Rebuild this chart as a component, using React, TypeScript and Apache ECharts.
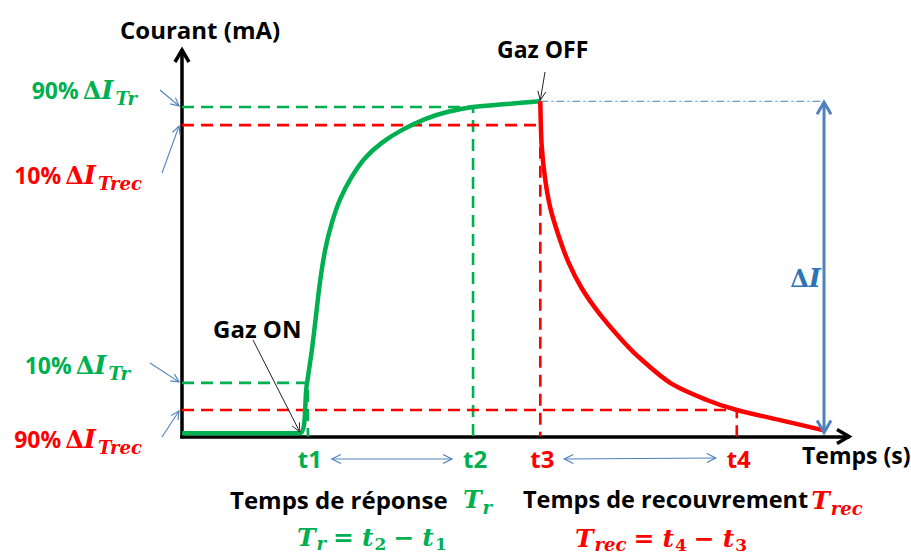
import React, { useEffect, useRef } from 'react';
import * as echarts from 'echarts';

// ---- data (arbitrary units: time 0..100, current 0..115) ----
const greenTime = [0, 17.7, 18.7, 19.5, 20.1, 20.7, 21.5, 22.5, 23.7, 25.5, 27.5, 30.0, 33.0, 36.5, 39.8, 43.7, 48.8, 53.8];
const greenCurrent = [1.0, 1.0, 14.9, 25.8, 35.7, 45.8, 55.7, 63.7, 70.6, 77.5, 83.1, 87.6, 91.4, 94.7, 96.8, 98.3, 99.2, 100];
const redTime = [53.8, 54.0, 54.5, 55.3, 56.5, 58.0, 60.0, 62.5, 65.5, 68.3, 73.3, 78.8, 83.3, 89.8, 96.2];
const redCurrent = [100, 87.0, 77.2, 68.2, 60.2, 52.1, 44.3, 37.1, 30.0, 24.2, 16.0, 10.9, 7.9, 4.9, 1.9];
const markTimes = [18.9, 43.7, 53.8, 83.3];
const markLabels = ['t1', 't2', 't3', 't4'];
const levelGreen90 = 98.3;
const levelRed10 = 92.9;
const levelGreen10 = 16.0;
const levelRed90 = 7.9;
const peakCurrent = 100;
const deltaTime = 96.4;
const timeMax = 100;
const currentMax = 115;

const GREEN = '#00B050';
const RED = '#FF0000';
const BLUE = '#4F81BD';
const SANS = "'Open Sans', sans-serif";
const SERIF = "'DejaVu Serif', serif";

let ctx2d: CanvasRenderingContext2D | null = null;
function measure(text: string, font: string) {
  if (!ctx2d) ctx2d = document.createElement('canvas').getContext('2d');
  ctx2d!.font = font;
  return ctx2d!.measureText(text).width;
}

type Opt = { align?: string; fam?: string; bold?: boolean; italic?: boolean };
function fontOf(size: number, o: Opt) {
  const fam = o.fam || SANS;
  return `${o.italic ? 'italic ' : ''}${o.bold === false ? '' : 'bold '}${size}px ${fam}`;
}
function txt(text: string, x: number, base: number, size: number, color: string, o: Opt = {}) {
  const fam = o.fam || SANS;
  const font = fontOf(size, o);
  const k = fam === SANS ? 0.36 : 0.34;
  return {
    type: 'text', silent: true, z: 50,
    style: {
      text, x, y: base - size * k, font, fill: color,
      align: o.align || 'left', textAlign: o.align || 'left',
      verticalAlign: 'middle', textVerticalAlign: 'middle',
    },
  };
}
type Part = { t: string; size: number; fam?: string; italic?: boolean; dy?: number; gap?: number };
// lays out runs left to right; if right is true, x is the right end
function seq(x: number, base: number, color: string, parts: Part[], right = false) {
  const widths = parts.map((p) => measure(p.t, fontOf(p.size, { fam: p.fam, italic: p.italic })) + (p.gap || 0));
  const total = widths.reduce((a, b) => a + b, 0);
  let cx = right ? x - total : x;
  const out: any[] = [];
  parts.forEach((p, i) => {
    out.push(txt(p.t, cx, base + (p.dy || 0), p.size, color, { fam: p.fam, italic: p.italic }));
    cx += widths[i];
  });
  return out;
}
function head(tip: number[], from: number[], len: number, half: number, color: string, w: number) {
  const dx = tip[0] - from[0], dy = tip[1] - from[1];
  const L = Math.hypot(dx, dy) || 1;
  const ux = dx / L, uy = dy / L;
  const bx = tip[0] - ux * len, by = tip[1] - uy * len;
  const px = -uy, py = ux;
  return {
    type: 'polyline', silent: true, z: 40,
    shape: { points: [[bx + px * half, by + py * half], [tip[0], tip[1]], [bx - px * half, by - py * half]] },
    style: { stroke: color, lineWidth: w, fill: 'none', lineJoin: 'miter' },
  };
}
function arrow(a: number[], b: number[], color: string, w: number, len: number, half: number, both = false) {
  const els: any[] = [
    { type: 'line', silent: true, z: 40, shape: { x1: a[0], y1: a[1], x2: b[0], y2: b[1] }, style: { stroke: color, lineWidth: w } },
    head(b, a, len, half, color, w),
  ];
  if (both) els.push(head(a, b, len, half, color, w));
  return els;
}
function mathLabel(pct: string, sub: string, color: string, endX: number, base: number) {
  return seq(endX, base, color, [
    { t: pct, size: 23, fam: SANS, gap: 4 },
    { t: 'Δ', size: 24, fam: SERIF, dy: 1 },
    { t: 'I', size: 26, fam: SERIF, italic: true, dy: 1, gap: 2 },
    { t: sub, size: 18, fam: SERIF, italic: true, dy: 7 },
  ], true);
}

function pairs(xs: number[], ys: number[]) {
  return xs.map((x, i) => [x, ys[i]]);
}
function guide(level: number, t: number) {
  return [[0, level], [t, level], [t, 0]];
}

export default function App() {
  const ref = useRef<HTMLDivElement>(null);
  useEffect(() => {
    document.body.style.margin = '0';
    const chart = echarts.init(ref.current!, null, { renderer: 'svg' });
    const dashed = (color: string) => ({ color, width: 2.6, type: [12, 7] as any });
    chart.setOption({
      animation: false,
      grid: { left: 182, top: 51, width: 666, height: 385.5, outerBoundsMode: 'none' } as any,
      xAxis: {
        type: 'value', min: 0, max: timeMax,
        axisLine: { show: true, onZero: false, lineStyle: { color: '#000', width: 3.5, cap: 'square' } as any },
        axisTick: { show: false }, axisLabel: { show: false }, splitLine: { show: false },
      },
      yAxis: {
        type: 'value', min: 0, max: currentMax,
        axisLine: { show: true, onZero: false, lineStyle: { color: '#000', width: 3.5, cap: 'square' } as any },
        axisTick: { show: false }, axisLabel: { show: false }, splitLine: { show: false },
      },
      series: [
        { type: 'line', data: guide(levelGreen90, markTimes[1]), showSymbol: false, lineStyle: dashed(GREEN), z: 3 },
        { type: 'line', data: guide(levelRed10, markTimes[2]), showSymbol: false, lineStyle: dashed(RED), z: 3 },
        { type: 'line', data: guide(levelGreen10, markTimes[0]), showSymbol: false, lineStyle: dashed(GREEN), z: 3 },
        { type: 'line', data: guide(levelRed90, markTimes[3]), showSymbol: false, lineStyle: dashed(RED), z: 3 },
        {
          type: 'line', data: [[markTimes[2], peakCurrent], [deltaTime, peakCurrent]], showSymbol: false,
          lineStyle: { color: BLUE, width: 1, type: [8, 3, 2, 3] as any }, z: 3,
        },
        {
          type: 'line', data: pairs(greenTime, greenCurrent), showSymbol: false, smooth: 0.3,
          lineStyle: { color: GREEN, width: 4.5 }, z: 5,
        },
        {
          type: 'line', data: pairs(redTime, redCurrent), showSymbol: false, smooth: 0.3,
          lineStyle: { color: RED, width: 4.5 }, z: 5,
        },
      ],
    });

    const P = (x: number, y: number) => chart.convertToPixel({ gridIndex: 0 }, [x, y]) as number[];
    const g: any[] = [];
    // axis arrow heads
    const yTop = P(0, currentMax);
    g.push(head([yTop[0], yTop[1] - 1], [yTop[0], yTop[1] + 10], 12, 7, '#000', 3.5));
    const xEnd = P(timeMax, 0);
    g.push(head([xEnd[0] + 1, xEnd[1]], [xEnd[0] - 10, xEnd[1]], 12, 7, '#000', 3.5));

    // axis titles
    g.push(txt('Courant (mA)', 120, 38, 24, '#000'));
    g.push(txt('Temps (s)', 802, 463, 23, '#000'));

    // t labels + double arrows
    const tColors = [GREEN, GREEN, RED, RED];
    markTimes.forEach((t, i) => {
      g.push(txt(markLabels[i], P(t, 0)[0] + 2, 467, 24, tColors[i], { align: 'center' }));
    });
    g.push(...arrow([P(markTimes[0], 0)[0] + 24, 459], [P(markTimes[1], 0)[0] - 21, 459], BLUE, 1.2, 9, 4.5, true));
    g.push(...arrow([P(markTimes[2], 0)[0] + 24, 459], [P(markTimes[3], 0)[0] - 21, 458], BLUE, 1.2, 9, 4.5, true));

    // bottom captions
    g.push(txt('Temps de réponse', 230, 508, 24, '#000'));
    g.push(...seq(463, 508, GREEN, [
      { t: 'T', size: 25, fam: SERIF, italic: true, gap: 1 },
      { t: 'r', size: 18, fam: SERIF, italic: true, dy: 6 },
    ]));
    const capFont = 23.5;
    g.push(txt('Temps de recouvrement', 523, 507, capFont, '#000'));
    const capEnd = 523 + measure('Temps de recouvrement', fontOf(capFont, {}));
    g.push(...seq(Math.max(811, capEnd + 3), 509, RED, [
      { t: 'T', size: 25, fam: SERIF, italic: true, gap: 1 },
      { t: 'rec', size: 18, fam: SERIF, italic: true, dy: 6 },
    ]));

    // formulas
    g.push(...seq(297, 546, GREEN, [
      { t: 'T', size: 25, fam: SERIF, italic: true, gap: 1 },
      { t: 'r', size: 18, fam: SERIF, italic: true, dy: 4, gap: 7 },
      { t: '=', size: 25, fam: SERIF, gap: 8 },
      { t: 't', size: 25, fam: SERIF, italic: true, gap: 1 },
      { t: '2', size: 17, fam: SERIF, dy: 4, gap: 7 },
      { t: '−', size: 25, fam: SERIF, gap: 8 },
      { t: 't', size: 25, fam: SERIF, italic: true, gap: 1 },
      { t: '1', size: 17, fam: SERIF, dy: 4 },
    ]));
    g.push(...seq(575, 547, RED, [
      { t: 'T', size: 25, fam: SERIF, italic: true, gap: 1 },
      { t: 'rec', size: 18, fam: SERIF, italic: true, dy: 4, gap: 7 },
      { t: '=', size: 25, fam: SERIF, gap: 8 },
      { t: 't', size: 25, fam: SERIF, italic: true, gap: 1 },
      { t: '4', size: 17, fam: SERIF, dy: 4, gap: 7 },
      { t: '−', size: 25, fam: SERIF, gap: 8 },
      { t: 't', size: 25, fam: SERIF, italic: true, gap: 1 },
      { t: '3', size: 17, fam: SERIF, dy: 4 },
    ]));

    // Gaz ON / OFF
    g.push(txt('Gaz ON', 213, 337, 24, '#000'));
    const onPt = P(greenTime[1], greenCurrent[1]);
    g.push(...arrow([253, 340], [onPt[0], onPt[1] - 1], '#222', 1, 9, 4));
    g.push(txt('Gaz OFF', 497, 57, 23, '#000'));
    const offPt = P(markTimes[2], peakCurrent);
    g.push(...arrow([545, 72], [offPt[0], offPt[1] - 1], '#222', 1, 9, 4));

    // delta I arrow
    const dTop = P(deltaTime, peakCurrent);
    const dBot = P(deltaTime, 0);
    g.push(...arrow([dTop[0], dTop[1] + 1], [dBot[0], dBot[1] - 4], BLUE, 3, 12, 7, true));
    g.push(...seq(dTop[0] - 3, 287, '#2E75B6', [
      { t: 'Δ', size: 24, fam: SERIF },
      { t: 'I', size: 26, fam: SERIF, italic: true },
    ], true));

    // left labels
    g.push(...mathLabel('90%', 'Tr', GREEN, 137, 98));
    g.push(...mathLabel('10%', 'Trec', RED, 142, 183));
    g.push(...mathLabel('10%', 'Tr', GREEN, 130, 373));
    g.push(...mathLabel('90%', 'Trec', RED, 142, 447));
    const lv = (l: number) => P(0, l);
    const lA = lv(levelGreen90), lB = lv(levelRed10), lC = lv(levelGreen10), lD = lv(levelRed90);
    g.push(...arrow([160, 90], [lA[0] - 3, lA[1] - 1], BLUE, 1.1, 8, 4));
    g.push(...arrow([162, 173], [lB[0] - 3, lB[1] + 1], BLUE, 1.1, 8, 4));
    g.push(...arrow([150, 363], [lC[0] - 3, lC[1] - 1], BLUE, 1.1, 8, 4));
    g.push(...arrow([162, 437], [lD[0] - 3, lD[1] + 1], BLUE, 1.1, 8, 4));

    chart.setOption({ graphic: { elements: g } });
    return () => chart.dispose();
  }, []);
  return <div ref={ref} style={{ width: 911, height: 556 }} />;
}
